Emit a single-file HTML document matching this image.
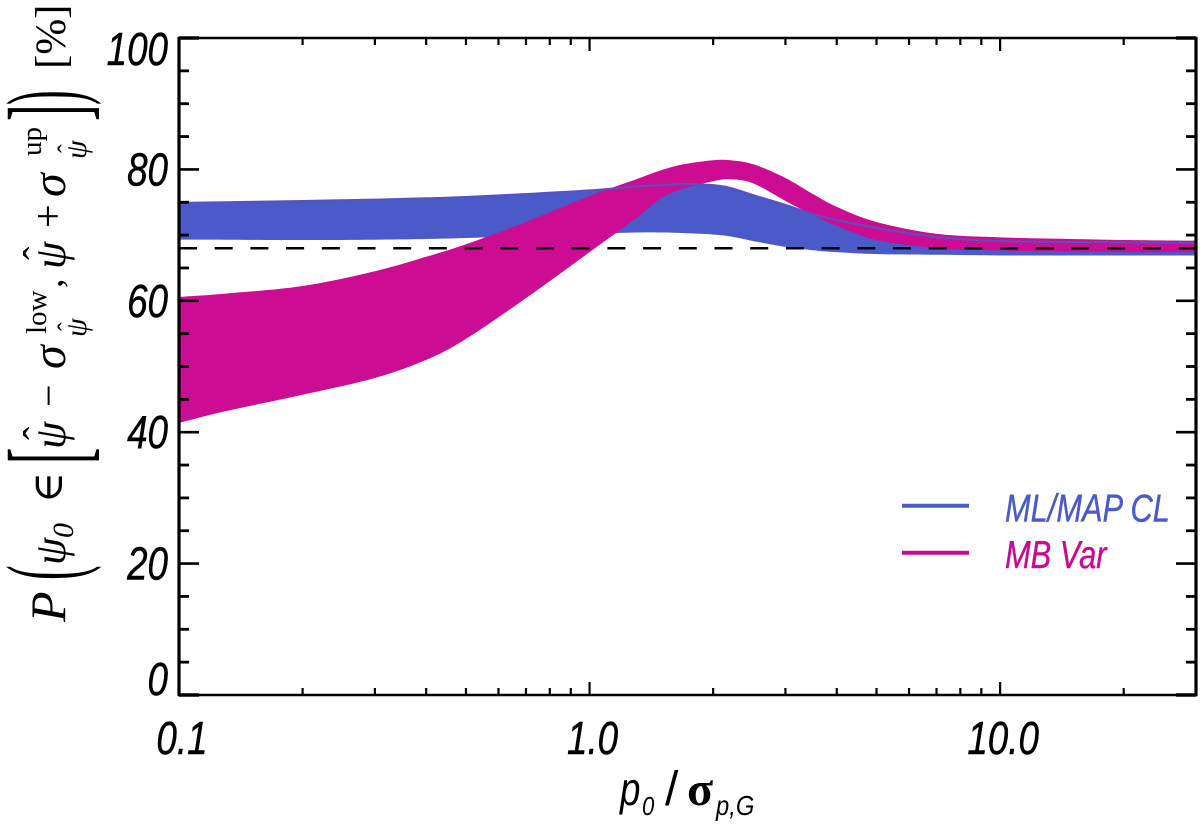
<!DOCTYPE html>
<html lang="en">
<head>
<meta charset="utf-8">
<title>Coverage probability chart</title>
<style>
html,body{margin:0;padding:0;background:#fff;}
svg{display:block;}
.tick-label{font-family:"Liberation Sans",sans-serif;font-style:italic;font-size:46px;fill:#000;stroke:#000;stroke-width:.5px;}
.m{font-family:"Liberation Serif","DejaVu Serif",serif;fill:#000;}
.i{font-style:italic;}
.s{font-family:"Liberation Sans",sans-serif;font-style:italic;fill:#000;}
</style>
</head>
<body>
<svg id="chart" xmlns="http://www.w3.org/2000/svg" width="1200" height="826" viewBox="0 0 1200 826">
  <rect x="0" y="0" width="1200" height="826" fill="#ffffff"/>
  <g id="bands"></g>
  <g id="axes"></g>

  <g>
    <text class="m i" font-size="50" transform="translate(65,622) rotate(-90)">P</text>
    <text class="m" font-size="105" transform="translate(79,580) rotate(-90) scale(.42,1)">(</text>
    <text class="m i" font-size="44" transform="translate(65,565) rotate(-90)">ψ</text>
    <text class="m i" font-size="30" transform="translate(73,538) rotate(-90)">0</text>
    <text class="m" font-size="42" transform="translate(62,503) rotate(-90)">∈</text>
    <text class="m" font-size="110" transform="translate(84,464) rotate(-90) scale(.45,1)">[</text>
    <text class="m i" font-size="44" transform="translate(65,449) rotate(-90)">ψ</text>
    <text class="m" font-size="40" transform="translate(51,440) rotate(-90)">ˆ</text>
    <text class="m" font-size="40" transform="translate(62,407) rotate(-90)">−</text>
    <text class="m i" font-size="48" transform="translate(65,369) rotate(-90)">σ</text>
    <text class="m" font-size="29" transform="translate(46,334) rotate(-90)">low</text>
    <text class="m i" font-size="30" transform="translate(86,337) rotate(-90)">ψ</text>
    <text class="m" font-size="26" transform="translate(76,331) rotate(-90)">ˆ</text>
    <text class="m" font-size="38" transform="translate(62,288) rotate(-90)">,</text>
    <text class="m i" font-size="44" transform="translate(65,269) rotate(-90)">ψ</text>
    <text class="m" font-size="40" transform="translate(51,260) rotate(-90)">ˆ</text>
    <text class="m" font-size="42" transform="translate(62,228) rotate(-90)">+</text>
    <text class="m i" font-size="48" transform="translate(65,197) rotate(-90)">σ</text>
    <text class="m" font-size="29" transform="translate(41,156) rotate(-90)">up</text>
    <text class="m i" font-size="30" transform="translate(86,159) rotate(-90)">ψ</text>
    <text class="m" font-size="26" transform="translate(76,153) rotate(-90)">ˆ</text>
    <text class="m" font-size="110" transform="translate(84,121) rotate(-90) scale(.45,1)">]</text>
    <text class="m" font-size="105" transform="translate(79,105) rotate(-90) scale(.42,1)">)</text>
    <text class="m" font-size="43" transform="translate(65,69) rotate(-90)">[%]</text>
  </g>

  <g>
    <text class="s" font-size="46" transform="translate(620,805) scale(.8,1)">p</text>
    <text class="s" font-size="26" transform="translate(642,815) scale(.85,1)">0</text>
    <text class="s" font-size="48" transform="translate(665,805)" style="font-style:normal">/</text>
    <text class="m" font-weight="bold" font-size="48" transform="translate(687,805)">σ</text>
    <text class="s" font-size="28" transform="translate(716,815) scale(.85,1)">p,G</text>
  </g>

  <g>
    <g>
      <line x1="902" x2="969" y1="505.7" y2="505.7" stroke="#4a5ac8" stroke-width="4"/>
      <text font-family="'Liberation Sans',sans-serif" font-style="italic" font-size="39" fill="#4a5ac8" stroke="#4a5ac8" stroke-width=".4" transform="translate(1005,521.5) scale(.79,1)">ML/MAP CL</text>
    </g>
    <g>
      <line x1="902" x2="969" y1="552.7" y2="552.7" stroke="#c70c90" stroke-width="4"/>
      <text font-family="'Liberation Sans',sans-serif" font-style="italic" font-size="39" fill="#c70c90" stroke="#c70c90" stroke-width=".4" transform="translate(1005,568) scale(.79,1)">MB Var</text>
    </g>
  </g>
</svg>
<script>
const p0Values = [0.1,0.13,0.2,0.3,0.4,0.5,0.7,1.0,1.3,1.5,1.7,2.0,2.2,2.5,3.0,3.5,4.0,5.0,7.0,10,15,20,30];
const blueUpper = [74.9,75.0,75.2,75.4,75.6,75.8,76.25,76.8,77.4,77.6,77.8,77.6,77.2,76.1,74.6,73.2,72.3,71.1,69.7,69.1,68.95,68.9,68.8];
const blueLower = [69.3,69.3,69.25,69.3,69.4,69.55,69.85,70.2,70.4,70.4,70.3,70.1,69.8,69.1,68.2,67.7,67.4,67.1,67.0,66.9,66.9,66.9,66.9];
const magentaUpper = [60.6,61.1,62.25,64.5,66.7,68.6,72.0,75.95,78.5,79.9,80.8,81.4,81.4,80.8,78.7,76.25,74.3,72.0,70.2,69.65,69.4,69.25,69.15];
const magentaLower = [41.4,43.2,45.7,48.25,51.0,54.2,60.4,67.4,72.6,75.7,77.1,78.2,78.5,77.9,75.2,73.06,71.4,69.25,68.0,67.65,67.5,67.4,67.4];
const referenceLevel = [68];
const yTickValues = [0,5,10,15,20,25,30,35,40,45,50,55,60,65,70,75,80,85,90,95,100];
const yTickLabels = ["0","20","40","60","80","100"];
const xMinorTicks = [0.2,0.3,0.4,0.5,0.6,0.7,0.8,0.9,2,3,4,5,6,7,8,9,20,30];
const xMajorTicks = [0.1,1,10];
const xTickLabels = ["0.1","1.0","10.0"];

const NS = "http://www.w3.org/2000/svg";
const plot = {left:179, right:1196, top:38, bottom:695};
const xDomain = [0.1, 30];
const yDomain = [0, 100];
function xScale(v){
  return plot.left + (plot.right-plot.left)*Math.log10(v/xDomain[0])/Math.log10(xDomain[1]/xDomain[0]);
}
function yScale(v){
  return plot.bottom - (plot.bottom-plot.top)*(v-yDomain[0])/(yDomain[1]-yDomain[0]);
}
function spline(pts, start){
  let d = start ? "M"+pts[0][0].toFixed(2)+" "+pts[0][1].toFixed(2) : "L"+pts[0][0].toFixed(2)+" "+pts[0][1].toFixed(2);
  for(let i=0;i<pts.length-1;i++){
    const a=pts[Math.max(i-1,0)], b=pts[i], c=pts[i+1], e=pts[Math.min(i+2,pts.length-1)];
    const c1x=b[0]+(c[0]-a[0])/6, c1y=b[1]+(c[1]-a[1])/6;
    const c2x=c[0]-(e[0]-b[0])/6, c2y=c[1]-(e[1]-b[1])/6;
    d+="C"+c1x.toFixed(2)+" "+c1y.toFixed(2)+" "+c2x.toFixed(2)+" "+c2y.toFixed(2)+" "+c[0].toFixed(2)+" "+c[1].toFixed(2);
  }
  return d;
}
function seriesPts(vals){
  return p0Values.map(function(x,i){return [xScale(x), yScale(vals[i])];});
}
function bandPath(up, low){
  return spline(seriesPts(up), true) + spline(seriesPts(low).reverse(), false) + "Z";
}
const bands = document.getElementById("bands");
const axes = document.getElementById("axes");

const blueBand = document.createElementNS(NS,"path");
blueBand.setAttribute("d", bandPath(blueUpper, blueLower));
blueBand.setAttribute("fill", "#4a5ac8");


bands.appendChild(blueBand);

const magentaBand = document.createElementNS(NS,"path");
magentaBand.setAttribute("d", bandPath(magentaUpper, magentaLower));
magentaBand.setAttribute("fill", "#cc0c92");


bands.appendChild(magentaBand);

const blueEdge = document.createElementNS(NS,"path");
blueEdge.setAttribute("d", spline(seriesPts(blueUpper), true));
blueEdge.setAttribute("fill", "none");
blueEdge.setAttribute("stroke", "#5a50c0");
blueEdge.setAttribute("stroke-width", "2");


bands.appendChild(blueEdge);

const refLine = document.createElementNS(NS,"line");
refLine.setAttribute("x1", plot.left);
refLine.setAttribute("x2", plot.right);
refLine.setAttribute("y1", yScale(referenceLevel[0]));
refLine.setAttribute("y2", yScale(referenceLevel[0]));
refLine.setAttribute("stroke", "#000");
refLine.setAttribute("stroke-width", "2.4");
refLine.setAttribute("stroke-dasharray", "18 17.7");


bands.appendChild(refLine);

function addLine(x1,y1,x2,y2,w,name){
  const l = document.createElementNS(NS,"line");
  l.setAttribute("x1",x1);
  l.setAttribute("y1",y1);
  l.setAttribute("x2",x2);
  l.setAttribute("y2",y2);
  l.setAttribute("stroke","#000");
  l.setAttribute("stroke-width",w);
  
  
  axes.appendChild(l);
}
yTickValues.forEach(function(v){
  const y = yScale(v);
  const major = v % 20 === 0;
  const len = major ? 20 : 10;
  const w = major ? 2.6 : 2.8;
  if(v===0 || v===100) { addLine(plot.left,y,plot.left+20,y,3.6,"y-corner-tick"); addLine(plot.right,y,plot.right-20,y,3.6,"y-corner-tick-right"); return; }
  addLine(plot.left,y,plot.left+len,y,w,"y-tick-left");
  addLine(plot.right,y,plot.right-len,y,w,"y-tick-right");
});
xMinorTicks.forEach(function(v){
  const x = xScale(v);
  addLine(x,plot.top,x,plot.top+7,2.2,"x-minor-tick-top");
  addLine(x,plot.bottom,x,plot.bottom-7,2.2,"x-minor-tick-bottom");
});
xMajorTicks.forEach(function(v){
  const x = xScale(v);
  addLine(x,plot.top,x,plot.top+13,2.2,"x-major-tick-top");
  addLine(x,plot.bottom,x,plot.bottom-13,2.2,"x-major-tick-bottom");
});
addLine(plot.left-1.5,plot.top,plot.right+1.5,plot.top,2.6,"top-axis-line");
addLine(plot.left-1.5,plot.bottom,plot.right+1.5,plot.bottom,2.6,"x-axis-line");
addLine(plot.left,plot.top,plot.left,plot.bottom,3.2,"y-axis-line");
addLine(plot.right,plot.top,plot.right,plot.bottom,3.2,"right-axis-line");

yTickLabels.forEach(function(label){
  const y = yScale(parseFloat(label));
  const base = Math.min(Math.max(y+16, plot.top+27), plot.bottom);
  const t = document.createElementNS(NS,"text");
  t.setAttribute("class","tick-label");
  t.setAttribute("text-anchor","end");
  t.setAttribute("transform","translate(168,"+base+") scale(.8,1)");
  t.textContent = label;
  
  
  axes.appendChild(t);
});
xTickLabels.forEach(function(label){
  const x = xScale(parseFloat(label));
  const t = document.createElementNS(NS,"text");
  t.setAttribute("class","tick-label");
  t.setAttribute("text-anchor","middle");
  t.setAttribute("transform","translate("+(x+3)+",754) scale(.8,1)");
  t.textContent = label;
  
  
  axes.appendChild(t);
});
</script>
</body>
</html>
